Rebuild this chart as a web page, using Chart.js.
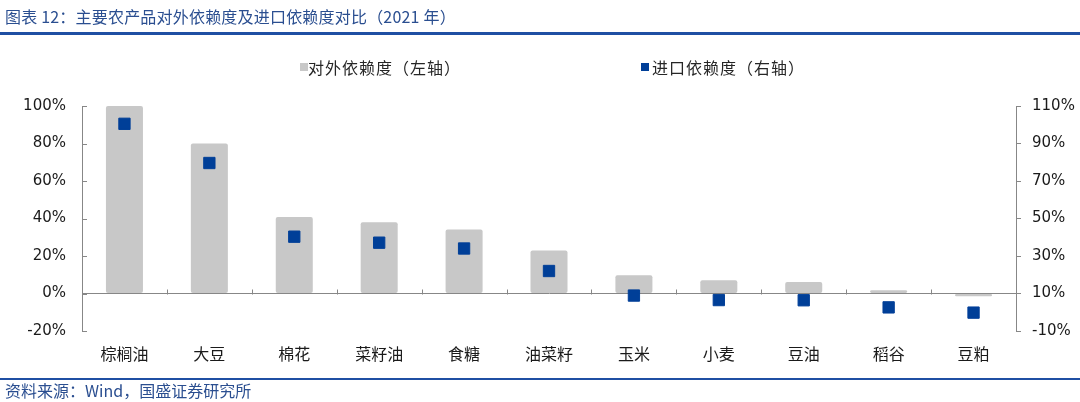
<!DOCTYPE html>
<html>
<head>
<meta charset="utf-8">
<script src="https://cdn.jsdelivr.net/npm/chart.js@4.4.1/dist/chart.umd.min.js"></script>
<style>
  html, body { margin: 0; padding: 0; background: #fff; }
  #wrap { position: relative; width: 1080px; height: 402px; overflow: hidden; font-family: "Noto Sans CJK SC", sans-serif; }
  #chart { position: absolute; left: 0; top: 0; }
  .title { position: absolute; left: 5px; top: 6px; font-size: 16px; line-height: 20px; color: #2a4e90; white-space: nowrap; letter-spacing: 0.2px; }
  .rule { position: absolute; left: 0; width: 1080px; background: #1f4fa3; }
  .source { position: absolute; left: 5px; top: 380px; font-size: 16px; line-height: 20px; color: #2a4e90; white-space: nowrap; }
  .lg-box { position: absolute; width: 8px; height: 8px; top: 63px; }
  .lg-text { position: absolute; top: 57px; font-size: 16px; line-height: 20px; color: #262626; white-space: nowrap; letter-spacing: 1px; }
</style>
</head>
<body>
<div id="wrap">
  <canvas id="chart" width="1080" height="402"></canvas>
  <div class="title">图表 12：主要农产品对外依赖度及进口依赖度对比（2021 年）</div>
  <div class="rule" style="top:32px;height:3px;"></div>
  <div class="lg-box" style="left:300px;background:#c8c8c8;"></div>
  <div class="lg-text" style="left:308px;">对外依赖度（左轴）</div>
  <div class="lg-box" style="left:641px;background:#003f98;"></div>
  <div class="lg-text" style="left:652px;">进口依赖度（右轴）</div>
  <div class="rule" style="top:378px;height:2px;"></div>
  <div class="source">资料来源：Wind，国盛证券研究所</div>
</div>
<script>
// values, in percent
const categories = ["棕榈油", "大豆", "棉花", "菜籽油", "食糖", "油菜籽", "玉米", "小麦", "豆油", "稻谷", "豆粕"];
const externalDep = [100, 80, 40.8, 38, 34.1, 22.9, 9.8, 7.1, 6.2, 1.8, -1.5];
const importDep = [100.5, 79.6, 40.3, 37.1, 34, 22, 8.9, 6.5, 6.4, 2.6, -0.2];
const leftTicks = { min: -20, max: 100, step: 20 };
const rightTicks = { min: -10, max: 110, step: 20 };

const AXIS = "#878787";
const numFont = { family: "DejaVu Sans", size: 15 };
const cjkFont = { family: "Noto Sans CJK SC", size: 16 };

// zero-line category ticks and inward ticks on the left axis
const axisMarks = {
  id: "axisMarks",
  afterDatasetsDraw(chart) {
    const { ctx, chartArea, scales: { x, y } } = chart;
    const y0 = Math.round(y.getPixelForValue(0)) + 0.5;
    ctx.save();
    ctx.strokeStyle = AXIS;
    ctx.lineWidth = 1;
    ctx.beginPath();
    for (let i = 1; i < categories.length; i++) {
      const px = Math.round((x.getPixelForValue(i - 1) + x.getPixelForValue(i)) / 2) + 0.5;
      ctx.moveTo(px, y0);
      ctx.lineTo(px, y0 - 5);
    }
    y.ticks.forEach((t, i) => {
      const py = Math.round(y.getPixelForTick(i)) + 0.5;
      ctx.moveTo(chartArea.left, py);
      ctx.lineTo(chartArea.left + 5, py);
    });
    ctx.stroke();
    ctx.restore();
  }
};

new Chart(document.getElementById("chart"), {
  type: "bar",
  data: {
    labels: categories,
    datasets: [
      {
        type: "line",
        label: "进口依赖度（右轴）",
        data: importDep,
        yAxisID: "y1",
        showLine: false,
        pointStyle: "rect",
        pointRadius: 8,
        pointBorderWidth: 1,
        pointBackgroundColor: "#003f98",
        pointBorderColor: "#003f98",
        order: 0,
      },
      {
        label: "对外依赖度（左轴）",
        data: externalDep,
        yAxisID: "y",
        backgroundColor: "#c8c8c8",
        borderRadius: 2,
        borderSkipped: false,
        categoryPercentage: 1,
        barPercentage: 0.436,
        order: 1,
      },
    ],
  },
  options: {
    responsive: false,
    animation: false,
    layout: { padding: { top: 106, left: 0, right: 0, bottom: 0 } },
    plugins: { legend: { display: false }, tooltip: { enabled: false } },
    scales: {
      x: {
        grid: { display: false, drawTicks: false },
        border: { display: false },
        ticks: { color: "#1a1a1a", font: cjkFont, padding: 13, maxRotation: 0 },
        afterFit: s => { s.height = 71; },
      },
      y: {
        position: "left",
        min: leftTicks.min,
        max: leftTicks.max,
        ticks: { stepSize: leftTicks.step, color: "#1a1a1a", font: numFont, padding: 16, callback: v => v + "%" },
        grid: {
          drawTicks: false,
          color: c => (c.tick && c.tick.value === 0 ? AXIS : "rgba(0,0,0,0)"),
        },
        border: { display: true, color: AXIS },
        afterFit: s => { s.width = 82; },
      },
      y1: {
        position: "right",
        min: rightTicks.min,
        max: rightTicks.max,
        ticks: { stepSize: rightTicks.step, color: "#1a1a1a", font: numFont, padding: 11, callback: v => v + "%" },
        grid: { drawOnChartArea: false, drawTicks: true, tickLength: 5, tickColor: AXIS },
        border: { display: true, color: AXIS },
        afterFit: s => { s.width = 64; },
      },
    },
  },
  plugins: [axisMarks],
});
</script>
</body>
</html>
